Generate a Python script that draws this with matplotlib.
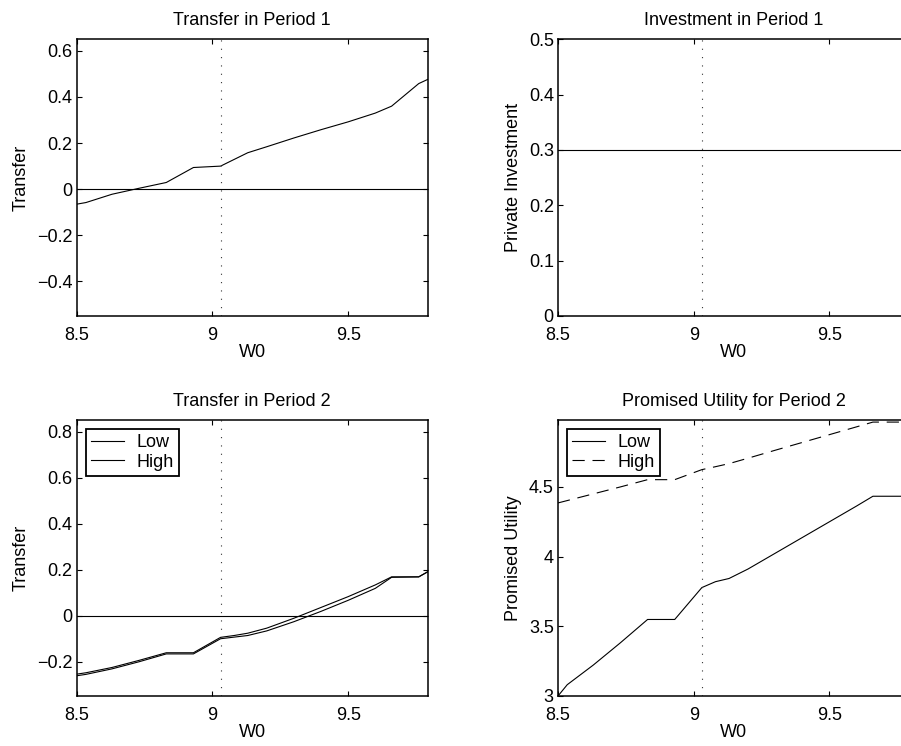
import matplotlib
matplotlib.use("Agg")
import matplotlib.pyplot as plt
from matplotlib.ticker import FuncFormatter

plt.rcParams['font.family'] = ['Liberation Sans', 'DejaVu Sans']
plt.rcParams['font.size'] = 13

# data
w0 = [8.5, 8.534, 8.63, 8.73, 8.83, 8.93, 9.03, 9.08, 9.13, 9.2,
      9.3, 9.4, 9.5, 9.6, 9.66, 9.76, 9.793]
transfer1 = [-0.065, -0.058, -0.022, 0.004, 0.029, 0.094, 0.100, 0.129, 0.158, 0.184,
             0.222, 0.258, 0.292, 0.330, 0.360, 0.458, 0.476]
investment1 = [0.3] * len(w0)
transfer2_low = [-0.255, -0.249, -0.226, -0.195, -0.162, -0.162, -0.095, -0.087, -0.077, -0.055,
                 -0.012, 0.035, 0.082, 0.133, 0.168, 0.168, 0.190]
transfer2_high = [-0.262, -0.256, -0.232, -0.201, -0.167, -0.167, -0.101, -0.094, -0.087, -0.067,
                  -0.027, 0.018, 0.066, 0.118, 0.166, 0.168, 0.190]
utility_low = [3.0, 3.081, 3.222, 3.382, 3.549, 3.549, 3.778, 3.820, 3.843, 3.911,
               4.024, 4.137, 4.250, 4.363, 4.433, 4.433, 4.433]
utility_high = [4.385, 4.402, 4.450, 4.500, 4.552, 4.552, 4.624, 4.645, 4.667, 4.706,
                4.763, 4.819, 4.875, 4.931, 4.965, 4.965, 4.965]
w0_star = 9.03

xticks = [8.5, 9, 9.5]
xlim = (8.5, 9.793)

fmt = FuncFormatter(lambda v, p: ('%g' % v).replace('-', '\u2212'))

W, H = 901.0, 746.0


def make_axes(left, top, right, bottom):
    return fig.add_axes([left / W, (H - bottom) / H, (right - left) / W, (bottom - top) / H])


def style(ax, yticks, ylim, title, ylabel):
    ax.set_xlim(*xlim)
    ax.set_ylim(*ylim)
    ax.set_xticks(xticks)
    ax.set_yticks(yticks)
    ax.xaxis.set_major_formatter(fmt)
    ax.yaxis.set_major_formatter(fmt)
    ax.tick_params(direction='in', top=True, right=True, length=3.5, width=0.8)
    ax.tick_params(axis='x', pad=8)
    ax.tick_params(axis='y', pad=3)
    for s in ax.spines.values():
        s.set_linewidth(1.1)
    ax.set_title(title, pad=10, fontsize=13)
    ax.set_xlabel('W0', labelpad=0)
    ax.set_ylabel(ylabel, labelpad=5)
    ax.axvline(w0_star, color='#333333', lw=0.8, linestyle=(0, (1, 6.5)))


def legend(ax, h):
    leg = ax.legend(h, ['Low', 'High'], loc='upper left', fancybox=False, framealpha=1,
                    edgecolor='black', handlelength=1.8, handletextpad=0.7,
                    labelspacing=0.12, borderpad=0.3, borderaxespad=0.5)
    leg.get_frame().set_linewidth(1.3)


fig = plt.figure(figsize=(9.01, 7.46), dpi=100)

# Transfer in Period 1
ax1 = make_axes(76.7, 39.3, 427.7, 316)
ax1.plot(w0, transfer1, color='black', lw=0.8)
ax1.axhline(0, color='black', lw=0.8)
style(ax1, [-0.4, -0.2, 0, 0.2, 0.4, 0.6], (-0.55, 0.65), 'Transfer in Period 1', 'Transfer')

# Investment in Period 1 (cut off at right edge as in the original)
ax2 = make_axes(558, 39.3, 909, 316)
ax2.plot(w0, investment1, color='black', lw=0.8)
style(ax2, [0, 0.1, 0.2, 0.3, 0.4, 0.5], (0, 0.5), 'Investment in Period 1', 'Private Investment')

# Transfer in Period 2
ax3 = make_axes(76.7, 420, 427.7, 696)
l1, = ax3.plot(w0, transfer2_low, color='black', lw=0.8)
l2, = ax3.plot(w0, transfer2_high, color='black', lw=0.8)
ax3.axhline(0, color='black', lw=0.8)
style(ax3, [-0.2, 0, 0.2, 0.4, 0.6, 0.8], (-0.35, 0.85), 'Transfer in Period 2', 'Transfer')
legend(ax3, [l1, l2])

# Promised Utility for Period 2
ax4 = make_axes(558, 420, 909, 696)
m1, = ax4.plot(w0, utility_low, color='black', lw=0.8)
m2, = ax4.plot(w0, utility_high, color='black', lw=0.8, linestyle=(0, (11, 7)))
style(ax4, [3, 3.5, 4, 4.5], (3, 4.98), 'Promised Utility for Period 2', 'Promised Utility')
legend(ax4, [m1, m2])

fig.savefig('out.png', dpi=100)
